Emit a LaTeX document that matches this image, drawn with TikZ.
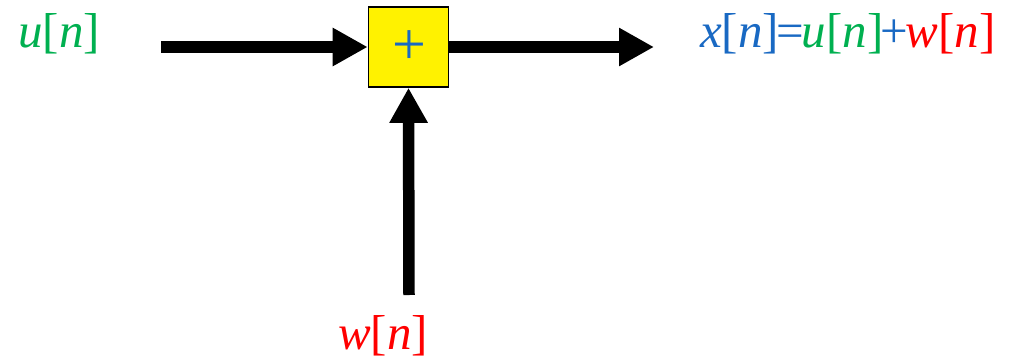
\documentclass[tikz,border=0pt]{standalone}
\usepackage{fontspec}
\setmainfont{Liberation Serif}
\usetikzlibrary{arrows.meta}
\definecolor{sigblue}{RGB}{25,105,195}
\definecolor{siggreen}{RGB}{0,176,80}
\definecolor{sigred}{RGB}{255,0,0}
\tikzset{
  sumbox/.style={draw=black, line width=1.6pt, fill=yellow, minimum width=80pt,
    minimum height=80pt, inner sep=0pt, text=sigblue, font=\fontsize{60}{60}\selectfont},
  flow/.style={line width=11.5pt, -{Triangle[length=35pt,width=36pt]}},
  siglabel/.style={inner sep=0pt, font=\fontsize{49}{49}\selectfont}
}
\begin{document}
\begin{tikzpicture}[x=1pt, y=-1pt]
  \useasboundingbox (0,0) rectangle (1013,361);
  % adder block
  \node[sumbox] (sum) at (408.5,47) {};
  \node[text=sigblue, inner sep=0pt, font=\fontsize{60}{60}\selectfont] (plus) at (409,47.5) {+};
  % free ends of the connectors
  \coordinate (uin) at (161,47);
  \coordinate (xout) at (654,47);
  \coordinate (win) at (409,295);
  % signals
  \node[siglabel, anchor=base west, text=siggreen] (ulab) at (18,48)
    {\textit{u}[\textit{n}]};
  \node[siglabel, anchor=base west] (xlab) at (700,48)
    {\color{sigblue}\textit{x}[\textit{n}]\kern-2.5pt=\kern-2.5pt\color{siggreen}\textit{u}[\textit{n}]\kern-2.5pt\color{sigblue}+\kern-2.5pt\color{sigred}\textit{w}[\textit{n}]};
  \node[siglabel, anchor=base west, text=sigred] (wlab) at (338,349)
    {\textit{w}[\textit{n}]};
  % connectors
  \draw[flow] (uin) -- (sum.west);
  \draw[flow] (sum.east) -- (xout);
  \draw[flow] (win) -- (sum.south);
\end{tikzpicture}
\end{document}
